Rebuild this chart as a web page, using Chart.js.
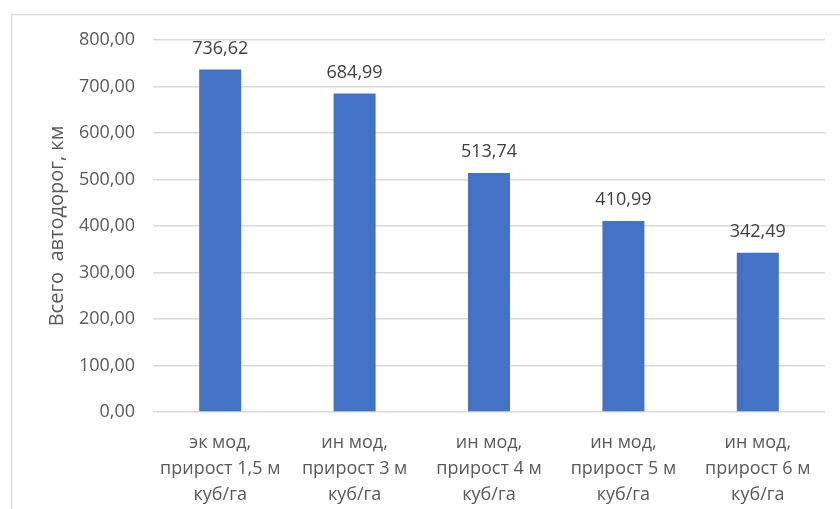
<!DOCTYPE html>
<html>
<head>
<meta charset="utf-8">
<script src="https://cdn.jsdelivr.net/npm/chart.js@4"></script>
<style>
  html, body { margin: 0; padding: 0; background: #fff; }
  #wrap { width: 840px; height: 509px; position: relative; }
</style>
</head>
<body>
<div id="wrap"><canvas id="roadsChart"></canvas></div>
<script>
const categories = [
    ['эк мод,', 'прирост 1,5 м', 'куб/га'],
    ['ин мод,', 'прирост 3 м', 'куб/га'],
    ['ин мод,', 'прирост 4 м', 'куб/га'],
    ['ин мод,', 'прирост 5 м', 'куб/га'],
    ['ин мод,', 'прирост 6 м', 'куб/га']
]
const roadLengths = [736.62, 684.99, 513.74, 410.99, 342.49]
const yTitle = 'Всего  автодорог, км'

const fontFamily = "'Open Sans', 'Noto Sans', sans-serif"
const textColor = '#595959'

// russian style number: 736,62
function fmt(v) {
    return v.toFixed(2).replace('.', ',')
}

// values written above each bar
const valueLabels = {
    id: 'valueLabels',
    afterDatasetsDraw(chart) {
        const ctx = chart.ctx
        const meta = chart.getDatasetMeta(0)
        ctx.save()
        ctx.font = `18px ${fontFamily}`
        ctx.fillStyle = '#404040'
        ctx.textAlign = 'center'
        ctx.textBaseline = 'middle'
        meta.data.forEach((bar, i) => {
            ctx.fillText(fmt(chart.data.datasets[0].data[i]), bar.x, bar.y - 21)
        })
        ctx.restore()
    }
}

// thin frame round the chart
const chartFrame = {
    id: 'chartFrame',
    beforeDraw(chart) {
        const ctx = chart.ctx
        ctx.save()
        ctx.strokeStyle = '#d9d9d9'
        ctx.lineWidth = 1.5
        ctx.strokeRect(11.5, 14.5, chart.width + 20, chart.height + 20)
        ctx.restore()
    }
}

new Chart(document.getElementById('roadsChart'), {
    type: 'bar',
    data: {
        labels: categories,
        datasets: [{
            data: roadLengths,
            backgroundColor: '#4472c4',
            barPercentage: 0.625,
            categoryPercentage: 0.5
        }]
    },
    options: {
        responsive: true,
        maintainAspectRatio: false,
        animation: false,
        layout: { padding: { left: 0, right: 15, top: 40, bottom: 0 } },
        plugins: {
            legend: { display: false },
            tooltip: { enabled: false }
        },
        scales: {
            x: {
                grid: { display: false },
                border: { display: false },
                ticks: {
                    color: textColor,
                    font: { family: fontFamily, size: 18, lineHeight: 1.45 },
                    padding: 10,
                    maxRotation: 0,
                    autoSkip: false
                },
                afterFit(scale) { scale.height = 97 }
            },
            y: {
                min: 0,
                max: 800,
                grid: { color: '#d9d9d9', lineWidth: 1.5, drawTicks: false },
                border: { display: false },
                ticks: {
                    stepSize: 100,
                    color: textColor,
                    font: { family: fontFamily, size: 18 },
                    padding: 18,
                    callback: (v) => fmt(v)
                },
                title: {
                    display: true,
                    text: yTitle,
                    color: textColor,
                    font: { family: fontFamily, size: 20 },
                    padding: { top: 45, bottom: 0 }
                },
                afterFit(scale) { scale.width = 153 }
            }
        }
    },
    plugins: [valueLabels, chartFrame]
})
</script>
</body>
</html>
